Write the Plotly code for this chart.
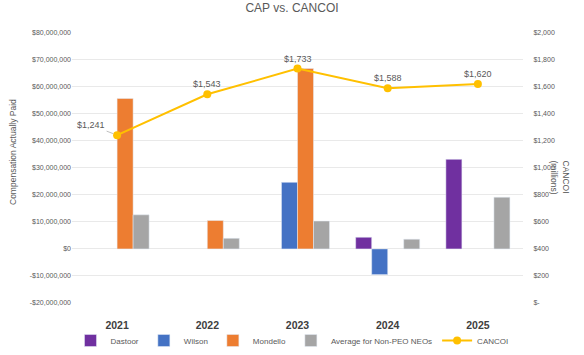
import plotly.graph_objects as go

years = ["2021", "2022", "2023", "2024", "2025"]
dastoor = [None, None, None, 4.3e6, 33.1e6]
wilson = [None, None, 24.6e6, -9.5e6, None]
mondello = [55.6e6, 10.5e6, 66.7e6, None, None]
avg_neo = [12.6e6, 3.9e6, 10.3e6, 3.6e6, 19.1e6]
cancoi = [1241, 1543, 1733, 1588, 1620]

left_vals = [-20e6, -10e6, 0, 10e6, 20e6, 30e6, 40e6, 50e6, 60e6, 70e6, 80e6]
left_text = ["-$20,000,000", "-$10,000,000", "$0", "$10,000,000", "$20,000,000",
             "$30,000,000", "$40,000,000", "$50,000,000", "$60,000,000",
             "$70,000,000", "$80,000,000"]
right_vals = [0, 200, 400, 600, 800, 1000, 1200, 1400, 1600, 1800, 2000]
right_text = ["$-", "$200", "$400", "$600", "$800", "$1,000", "$1,200",
              "$1,400", "$1,600", "$1,800", "$2,000"]

GRAY = "#595959"
FONT = "Liberation Sans, Arial, sans-serif"
W, H = 584, 355

fig = go.Figure()
fig.add_bar(x=years, y=dastoor, name="Dastoor", marker_color="#7030A0")
fig.add_bar(x=years, y=wilson, name="Wilson", marker_color="#4472C4")
fig.add_bar(x=years, y=mondello, name="Mondello", marker_color="#ED7D31")
fig.add_bar(x=years, y=avg_neo, name="Average for Non-PEO NEOs", marker_color="#A5A5A5")
fig.add_scatter(x=years, y=cancoi, name="CANCOI", yaxis="y2", mode="lines+markers",
                line=dict(color="#FFC000", width=2), marker=dict(size=8, color="#FFC000"))

for i, v in enumerate(cancoi):
    if i == 0:
        fig.add_annotation(x=i, y=v, xref="x", yref="y2", text=f"${v:,}",
                           showarrow=True, arrowhead=0, arrowcolor="#BFBFBF", arrowwidth=1,
                           ax=-26, ay=-10, standoff=4,
                           font=dict(size=9, color=GRAY, family=FONT))
    else:
        fig.add_annotation(x=i, y=v, xref="x", yref="y2", text=f"${v:,}",
                           showarrow=False, yshift=10,
                           font=dict(size=9, color=GRAY, family=FONT))

# axis titles as annotations (right one reads top-to-bottom)
fig.add_annotation(xref="paper", yref="paper", x=6 / W, y=1 - 152 / H,
                   text="Compensation Actually Paid", textangle=-90, showarrow=False,
                   font=dict(size=8.5, color=GRAY, family=FONT))
fig.add_annotation(xref="paper", yref="paper", x=573 / W, y=1 - 177 / H,
                   text="CANCOI<br>(millions)", textangle=90, showarrow=False, align="left",
                   font=dict(size=8.5, color=GRAY, family=FONT))

fig.update_layout(
    width=W, height=H,
    margin=dict(l=0, r=0, t=0, b=0),
    paper_bgcolor="white", plot_bgcolor="white",
    font=dict(family=FONT, color=GRAY, size=8),
    title=dict(text="CAP vs. CANCOI", x=0.5, xanchor="center", y=1 - 8 / H, yanchor="middle",
               font=dict(size=12, color=GRAY, family=FONT)),
    barmode="group", bargap=0.29, bargroupgap=0,
    showlegend=True,
    legend=dict(orientation="h", x=0.5, xanchor="center", y=0, yanchor="bottom",
                bgcolor="rgba(0,0,0,0)",
                font=dict(size=8, color=GRAY, family=FONT),
                tracegroupgap=0, itemwidth=30),
    xaxis=dict(type="category", range=[-0.5, 4.5], domain=[72 / W, 523 / W],
               showgrid=False, zeroline=False, automargin=False,
               showline=False, ticks="outside", ticklen=12, tickcolor="rgba(0,0,0,0)",
               tickfont=dict(size=10.5, color="#404040", family=FONT, weight="bold")),
    yaxis=dict(range=[-20e6, 80e6], domain=[1 - 303 / H, 1 - 32.5 / H],
               tickvals=left_vals, ticktext=left_text,
               showgrid=True, gridcolor="#E9E9E9", gridwidth=1, zeroline=False,
               showline=False, automargin=False, tickfont=dict(size=7, color=GRAY)),
    yaxis2=dict(range=[0, 2000], tickvals=right_vals, ticktext=right_text,
                overlaying="y", side="right", showgrid=False, zeroline=False,
                showline=False, automargin=False, ticks="outside", ticklen=8,
                tickcolor="rgba(0,0,0,0)", tickfont=dict(size=7, color=GRAY)),
)

fig.write_html("out.html", config={"displayModeBar": False},
               post_script="document.body.style.margin='0';document.body.style.overflow='hidden';")
